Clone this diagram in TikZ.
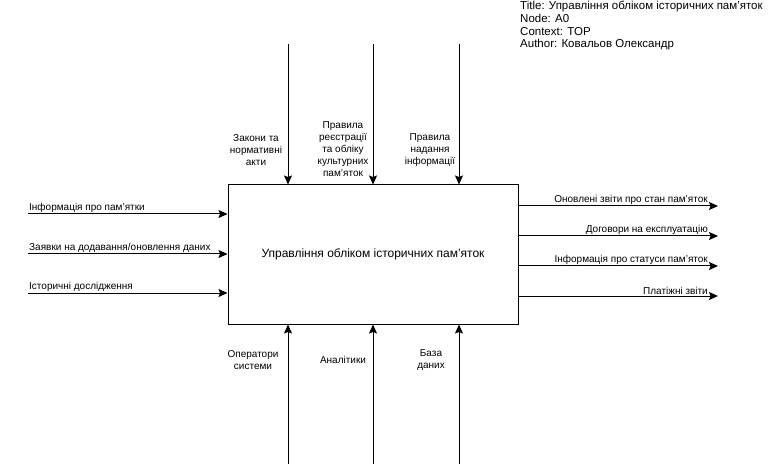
\documentclass[tikz,border=0pt]{standalone}
\usepackage{fontspec}
\setmainfont{Liberation Sans}
\usetikzlibrary{arrows.meta}

\begin{document}
\begin{tikzpicture}[x=1pt, y=-1pt,
    flow/.style={draw, line width=1pt, -{Stealth[length=9pt, width=8pt, inset=1.5pt]}},
    lbl/.style={font=\fontsize{10}{12}\selectfont, inner sep=1pt},
    ctl/.style={font=\fontsize{10}{12}\selectfont, align=center, inner sep=0pt}]
      \useasboundingbox (0,0) rectangle (774,473);

      % title block
      \node[anchor=north west, align=left, inner sep=0pt, font=\fontsize{11.5}{12.7}\selectfont] (info) at (520,1)
        {Title: Управління обліком історичних пам’яток\\Node: A0\\Context: TOP\\Author: Ковальов Олександр};

      % activity box
      \node[draw, line width=1pt, minimum width=290pt, minimum height=139pt, font=\fontsize{12}{14}\selectfont] (main) at (373,254.5)
        {Управління обліком історичних пам’яток};

      % inputs
      \coordinate (in1) at (28,214);
      \coordinate (in2) at (28,254);
      \coordinate (in3) at (28,293);
      \draw[flow] (in1) -- (in1 -| main.west);
      \draw[flow] (in2) -- (in2 -| main.west);
      \draw[flow] (in3) -- (in3 -| main.west);
      \node[lbl, anchor=south west] (lin1) at (in1) {Інформація про пам’ятки};
      \node[lbl, anchor=south west] (lin2) at (in2) {Заявки на додавання/оновлення даних};
      \node[lbl, anchor=south west] (lin3) at (in3) {Історичні дослідження};

      % outputs
      \coordinate (out1) at (718,206);
      \coordinate (out2) at (718,236);
      \coordinate (out3) at (718,266);
      \coordinate (out4) at (718,296);
      \draw[flow] (out1 -| main.east) -- (out1);
      \draw[flow] (out2 -| main.east) -- (out2);
      \draw[flow] (out3 -| main.east) -- (out3);
      \draw[flow] (out4 -| main.east) -- (out4);
      \node[lbl, anchor=south east] (lout1) at (709,206) {Оновлені звіти про стан пам’яток};
      \node[lbl, anchor=south east] (lout2) at (709,236) {Договори на експлуатацію};
      \node[lbl, anchor=south east] (lout3) at (709,266) {Інформація про статуси пам’яток};
      \node[lbl, anchor=south east] (lout4) at (709,296) {Платіжні звіти};

      % controls
      \coordinate (c1) at (288,44);
      \coordinate (c2) at (373,44);
      \coordinate (c3) at (459,44);
      \draw[flow] (c1) -- (c1 |- main.north);
      \draw[flow] (c2) -- (c2 |- main.north);
      \draw[flow] (c3) -- (c3 |- main.north);
      \node[ctl] (lc1) at (256,150) {Закони та\\нормативні\\акти};
      \node[ctl] (lc2) at (343,149) {Правила\\реєстрації\\та обліку\\культурних\\пам’яток};
      \node[ctl] (lc3) at (430,150) {Правила\\надання\\інформації};

      % mechanisms
      \coordinate (m1) at (288,464);
      \coordinate (m2) at (373,464);
      \coordinate (m3) at (459,464);
      \draw[flow] (m1) -- (m1 |- main.south);
      \draw[flow] (m2) -- (m2 |- main.south);
      \draw[flow] (m3) -- (m3 |- main.south);
      \node[ctl] (lm1) at (253,360) {Оператори\\системи};
      \node[ctl] (lm2) at (343,360) {Аналітики};
      \node[ctl] (lm3) at (431,360) {База\\даних};
    \end{tikzpicture}
\end{document}
